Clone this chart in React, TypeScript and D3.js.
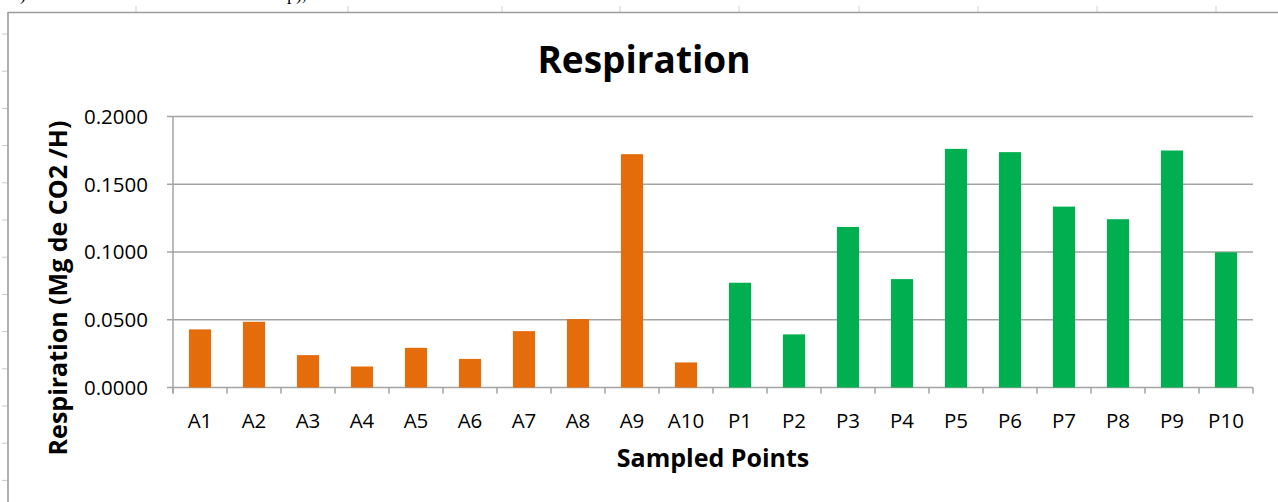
import React from "react";
import * as d3 from "d3";

const categories = ["A1","A2","A3","A4","A5","A6","A7","A8","A9","A10","P1","P2","P3","P4","P5","P6","P7","P8","P9","P10"];
const seriesA = [0.0429, 0.0485, 0.0239, 0.0155, 0.0293, 0.0211, 0.0416, 0.0505, 0.1722, 0.0185];
const seriesP = [0.0773, 0.0392, 0.1185, 0.0800, 0.1761, 0.1737, 0.1335, 0.1242, 0.1749, 0.0998];
const yTicks = [0, 0.05, 0.1, 0.15, 0.2];
const title = "Respiration";
const xTitle = "Sampled Points";
const yTitle = "Respiration (Mg de CO2 /H)";

const W = 1278, H = 502;
const M = { left: 173, right: 1253, top: 116.5, bottom: 387.5 };
const ORANGE = "#E46C0A";
const GREEN = "#00B050";
const GRID = "#A3A3A3";
const FONT = "'Open Sans', 'DejaVu Sans', sans-serif";

export default function App() {
  const x = d3.scaleBand<string>().domain(categories).range([M.left, M.right]).padding(0);
  const y = d3.scaleLinear().domain([0, 0.2]).range([M.bottom, M.top]);
  const bw = x.bandwidth() * 0.41;
  const bars = [
    ...seriesA.map((v, i) => ({ c: categories[i], v, color: ORANGE })),
    ...seriesP.map((v, i) => ({ c: categories[i + seriesA.length], v, color: GREEN })),
  ];
  const fmt = d3.format(".4f");
  const topTicks = [136, 348, 502, 620, 739, 859, 978, 1097, 1216];
  const leftTicks = d3.range(34, 500, 37.2);
  const boundaries = [...categories.map((c) => x(c) as number), M.right];

  return (
    <svg width={W} height={H} style={{ position: "absolute", left: 0, top: 0, display: "block", background: "#fff" }}>
      {/* spreadsheet remnants */}
      <text x={20} y={0} fontFamily="'Liberation Serif', serif" fontSize={18} fill="#000">)</text>
      <text x={287} y={0} fontFamily="'Liberation Serif', serif" fontSize={18} fill="#000">p),</text>
      {topTicks.map((t) => (
        <line key={"tt" + t} x1={t} x2={t} y1={6} y2={12} stroke="#d0d0d0" strokeWidth={1} />
      ))}
      {leftTicks.map((t) => (
        <line key={"lt" + t} x1={2} x2={7} y1={t} y2={t} stroke="#c8c8c8" strokeWidth={1} />
      ))}
      {/* chart frame */}
      <line x1={8} x2={W} y1={12.5} y2={12.5} stroke="#9c9c9c" strokeWidth={1.6} />
      <line x1={8} x2={8} y1={12} y2={H} stroke="#9c9c9c" strokeWidth={1.6} />

      {/* title */}
      <text x={644} y={72.5} textAnchor="middle" fontFamily={FONT} fontWeight="bold" fontSize={37} fill="#000">{title}</text>

      {/* gridlines */}
      {yTicks.map((t) => (
        <g key={"g" + t}>
          <line x1={M.left - 6} x2={M.right} y1={y(t)} y2={y(t)} stroke={GRID} strokeWidth={1.5} />
          <text x={148} y={y(t)} dy="0.36em" textAnchor="end" fontFamily={FONT} fontSize={20.5} fill="#000">{fmt(t)}</text>
        </g>
      ))}
      {/* y axis line */}
      <line x1={M.left} x2={M.left} y1={M.top} y2={M.bottom + 6} stroke={GRID} strokeWidth={1.5} />
      {/* x ticks */}
      {boundaries.map((b, i) => (
        <line key={"xt" + i} x1={b} x2={b} y1={M.bottom} y2={M.bottom + 6} stroke={GRID} strokeWidth={1.5} />
      ))}

      {/* bars */}
      {bars.map((d) => (
        <rect
          key={d.c}
          x={(x(d.c) as number) + (x.bandwidth() - bw) / 2}
          y={y(d.v)}
          width={bw}
          height={y(0) - y(d.v)}
          fill={d.color}
        />
      ))}

      {/* x labels */}
      {categories.map((c) => (
        <text key={"xl" + c} x={(x(c) as number) + x.bandwidth() / 2} y={428} textAnchor="middle" fontFamily={FONT} fontSize={20.5} fill="#000">{c}</text>
      ))}

      {/* axis titles */}
      <text x={(M.left + M.right) / 2} y={467} textAnchor="middle" fontFamily={FONT} fontWeight="bold" fontSize={25} fill="#000">{xTitle}</text>
      <text transform="translate(67,288) rotate(-90)" textAnchor="middle" fontFamily={FONT} fontWeight="bold" fontSize={25} fill="#000">{yTitle}</text>
    </svg>
  );
}
